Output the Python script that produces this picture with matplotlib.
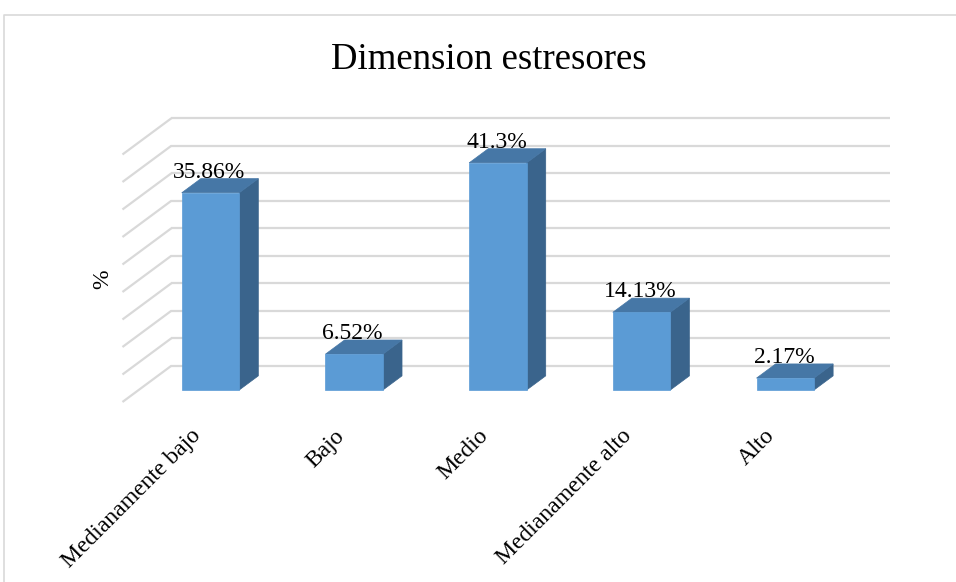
import matplotlib
matplotlib.use("Agg")
import matplotlib.pyplot as plt
from matplotlib.patches import Polygon
from matplotlib.lines import Line2D

plt.rcParams['font.family'] = ['Liberation Serif', 'DejaVu Serif']

# ---- data ----
categories = ["Medianamente bajo", "Bajo", "Medio", "Medianamente alto", "Alto"]
values = [35.86, 6.52, 41.3, 14.13, 2.17]
labels = ["35.86%", "6.52%", "41.3%", "14.13%", "2.17%"]
grid_ticks = [0, 5, 10, 15, 20, 25, 30, 35, 40, 45]
title = "Dimension estresores"
ylabel = "%"

# ---- style / geometry (pseudo 3D oblique projection) ----
W, H = 956, 582
X0, SX = 194.3, 143.7     # pixel of category 0 at front, px per category
Y0, SY = 402.0, 5.5       # pixel of value 0 at front, px per percent
DX, DY = 49.0 / SX, 36.3 / SY   # full-depth offset in data units
Z0, Z1 = 0.33, 0.72       # bar depth range
HW = 0.20                 # half bar width
FRONT = '#5b9bd5'
TOP = '#4677a6'
SIDE = '#3a648c'
GRID = '#d9d9d9'


def proj(x, y, z):
    return (x + z * DX, y + z * DY)


fig = plt.figure(figsize=(W / 100, H / 100), dpi=100)
ax = fig.add_axes([0, 0, 1, 1])
ax.set_xlim((0 - X0) / SX, (W - X0) / SX)
ax.set_ylim((Y0 - H) / SY, Y0 / SY)
ax.axis('off')

# chart frame
fig.add_artist(Line2D([4 / W, 4 / W, 1.0], [0.0, 1 - 15 / H, 1 - 15 / H],
                      transform=fig.transFigure, color=GRID, lw=1.2))

# back wall gridlines and side-wall diagonals
n = len(categories)
for v in grid_ticks:
    xa, ya = proj(-0.5, v, 1)
    xb, yb = proj(n - 0.5, v, 1)
    ax.plot([xa, xb], [ya, yb], color=GRID, lw=1.6, zorder=1,
            solid_capstyle='butt')
    xc, yc = proj(-0.5, v, 0)
    ax.plot([xc, xa], [yc, ya], color=GRID, lw=1.6, zorder=1,
            solid_capstyle='butt')

# bars
for i, v in enumerate(values):
    l, r = i - HW, i + HW
    front = [proj(l, 0, Z0), proj(r, 0, Z0), proj(r, v, Z0), proj(l, v, Z0)]
    top = [proj(l, v, Z0), proj(r, v, Z0), proj(r, v, Z1), proj(l, v, Z1)]
    side = [proj(r, 0, Z0), proj(r, 0, Z1), proj(r, v, Z1), proj(r, v, Z0)]
    for pts, c in ((side, SIDE), (top, TOP), (front, FRONT)):
        ax.add_patch(Polygon(pts, closed=True, facecolor=c, edgecolor=c,
                             lw=0.5, zorder=3))
    lx, _ = proj(i, 0, Z0)
    _, ly = proj(i, v, Z1)
    ax.text(lx - 0.01, ly + 0.15, labels[i], ha='center', va='baseline',
            fontsize=17, color='black', zorder=4)

# category labels
for i, cat in enumerate(categories):
    ax.text(i + 0.02, (Y0 - 433) / SY, cat, rotation=45, ha='right',
            va='center', rotation_mode='anchor', fontsize=17, color='black')

# y label
ax.text((103 - X0) / SX, (Y0 - 279) / SY, ylabel, rotation=90, ha='center',
        va='center', fontsize=17, color='black')

# title
fig.text(488.4 / W, 1 - 69.3 / H, title, ha='center', va='baseline',
         fontsize=26.5, color='black')

fig.savefig('out.png', dpi=100)
